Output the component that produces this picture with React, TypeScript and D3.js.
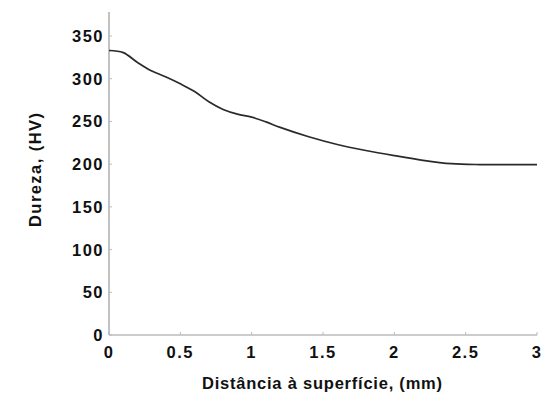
import React from "react";
import * as d3 from "d3";

const distances = [0, 0.1, 0.2, 0.3, 0.4, 0.5, 0.6, 0.7, 0.8, 0.9, 1.0, 1.1, 1.2, 1.4, 1.6, 1.8, 2.0, 2.2, 2.4, 2.6, 2.8, 3.0];
const hardness = [333, 330.5, 319, 309, 302, 294, 285, 273, 264, 258.5, 255, 249.5, 243, 232, 223, 216, 210, 204.5, 200.5, 199.5, 199.5, 199.5];
const xTicks = [0, 0.5, 1, 1.5, 2, 2.5, 3];
const xTickLabels = ["0", "0.5", "1", "1.5", "2", "2.5", "3"];
const yTicks = [0, 50, 100, 150, 200, 250, 300, 350];

export default function App() {
  const W = 544, H = 398;
  const x = d3.scaleLinear().domain([0, 3]).range([109, 537]);
  const y = d3.scaleLinear().domain([0, 350]).range([335, 36]);
  const line = d3.line<number>()
    .x((_, i) => x(distances[i]))
    .y((v) => y(v))
    .curve(d3.curveCatmullRom.alpha(0.5));
  const font = "Liberation Sans, Arial, Helvetica, sans-serif";
  return (
    <svg width={W} height={H} style={{ position: "absolute", left: 0, top: 0, background: "#fff" }}>
      <line x1={x(0)} x2={x(3)} y1={y(0)} y2={y(0)} stroke="#999" strokeWidth={1.2} />
      <line x1={x(0)} x2={x(0)} y1={y(0)} y2={12} stroke="#999" strokeWidth={1.2} />
      {xTicks.map((t, i) => (
        <g key={"x" + i}>
          <line x1={x(t)} x2={x(t)} y1={y(0)} y2={y(0) - 3} stroke="#bbb" />
          <text x={x(t)} y={358} textAnchor="middle" fontFamily={font} fontWeight="bold" fontSize={16.5} letterSpacing={1.5} fill="#111">{xTickLabels[i]}</text>
        </g>
      ))}
      {yTicks.map((t, i) => (
        <g key={"y" + i}>
          <line x1={x(0)} x2={x(0) + 3} y1={y(t)} y2={y(t)} stroke="#bbb" />
          <text x={104} y={y(t) + 6} textAnchor="end" fontFamily={font} fontWeight="bold" fontSize={16.5} letterSpacing={1.5} fill="#111">{t}</text>
        </g>
      ))}
      <path d={line(hardness) || ""} fill="none" stroke="#2a2a2a" strokeWidth={1.7} />
      <text x={322} y={389} textAnchor="middle" fontFamily={font} fontWeight="bold" fontSize={16.5} textLength={240} lengthAdjust="spacing" fill="#111">Distância à superfície, (mm)</text>
      <text transform="translate(41,170) rotate(-90)" textAnchor="middle" fontFamily={font} fontWeight="bold" fontSize={16.5} textLength={114} lengthAdjust="spacing" fill="#111">Dureza, (HV)</text>
    </svg>
  );
}
